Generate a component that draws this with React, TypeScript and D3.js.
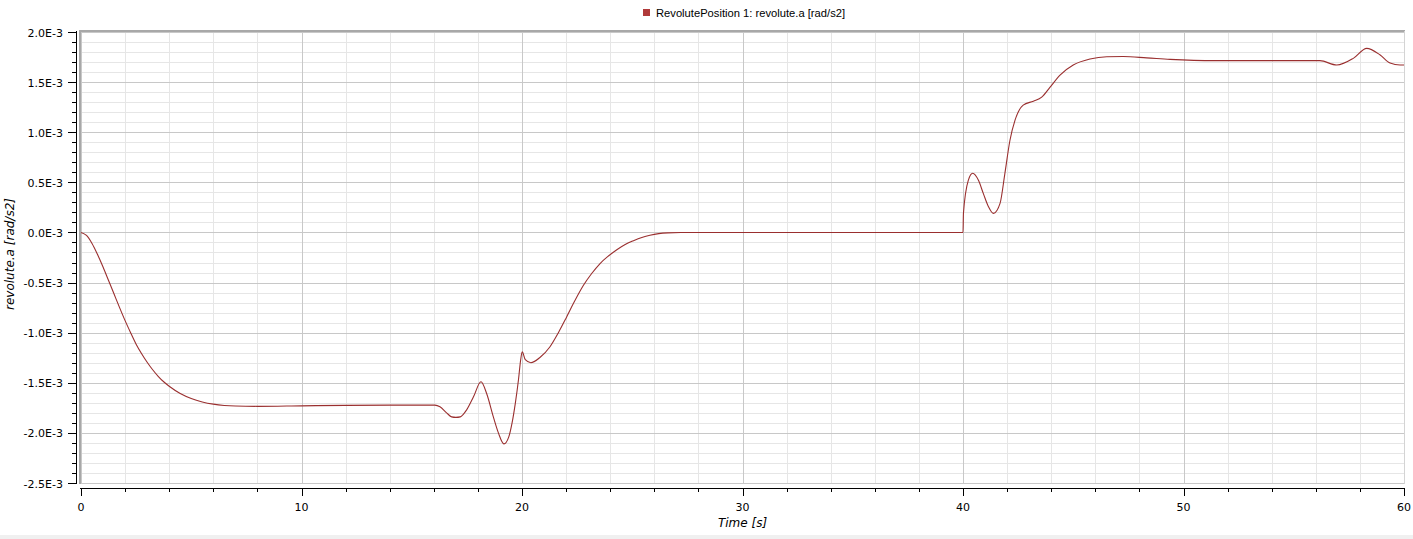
import React from "react";
import * as d3 from "d3";

const legendLabel = "RevolutePosition 1: revolute.a [rad/s2]";
const xTitle = "Time [s]";
const yTitle = "revolute.a [rad/s2]";

const xTicks = [0, 10, 20, 30, 40, 50, 60];
const xTickLabels = ["0", "10", "20", "30", "40", "50", "60"];
const yTicks = [-2.5, -2.0, -1.5, -1.0, -0.5, 0.0, 0.5, 1.0, 1.5, 2.0];
const yTickLabels = ["-2.5E-3", "-2.0E-3", "-1.5E-3", "-1.0E-3", "-0.5E-3", "0.0E-3", "0.5E-3", "1.0E-3", "1.5E-3", "2.0E-3"];

// time [s]
const times = [
  0, 0.25, 0.5, 0.75, 1.0, 1.25, 1.5, 1.75, 2.0, 2.25, 2.5, 2.75, 3.0, 3.25, 3.5, 3.75, 4.0, 4.5, 5.0, 5.5, 6.0, 6.5, 7.0, 8, 10, 12, 14, 16.05,
  16.28, 16.58, 16.81, 17.0, 17.2, 17.49, 17.8, 18.14, 18.4, 18.7, 18.93, 19.18, 19.4, 19.55, 19.7, 19.84, 19.94, 20.01,
  20.15, 20.4, 20.8, 21.27, 21.65, 22.03, 22.4, 22.78, 23.16, 23.54, 23.92, 24.3, 24.68, 25.05, 25.4, 25.8, 26.2, 26.6, 27.2, 40,
  40.02, 40.24, 40.44, 40.7, 40.92, 41.15, 41.38, 41.68, 41.9, 42.13, 42.36, 42.73, 43.19, 43.57, 43.95, 44.4,
  45.0, 45.76, 46.52, 47.27, 48.33, 49.39, 51.43, 56.19, 56.95, 57.7, 58.31, 58.92, 59.37, 59.82, 60,
];
// revolute.a [1E-3 rad/s2]
const accel = [
  0, -0.03, -0.11, -0.22, -0.345, -0.48, -0.615, -0.75, -0.88, -1.0, -1.115, -1.21, -1.295, -1.37, -1.435, -1.49, -1.535, -1.607, -1.657, -1.691, -1.713, -1.726, -1.732, -1.735, -1.73, -1.725, -1.723, -1.723,
  -1.74, -1.8, -1.84, -1.845, -1.84, -1.77, -1.64, -1.49, -1.61, -1.84, -2.0, -2.11, -2.04, -1.9, -1.7, -1.47, -1.27, -1.19,
  -1.27, -1.3, -1.25, -1.14, -1.0, -0.84, -0.68, -0.53, -0.41, -0.31, -0.235, -0.172, -0.12, -0.083, -0.052, -0.028, -0.012, -0.004, 0, 0,
  0.19, 0.52, 0.59, 0.52, 0.39, 0.26, 0.19, 0.29, 0.59, 0.92, 1.12, 1.27, 1.31, 1.35, 1.45, 1.57,
  1.67, 1.73, 1.753, 1.755, 1.742, 1.727, 1.714, 1.714, 1.67, 1.737, 1.837, 1.77, 1.69, 1.67, 1.67,
];

const lineColor = "#9a2f2f";
const W = 1413;
const H = 539;

export default function App() {
  const x = d3.scaleLinear().domain([0, 60]).range([81, 1404]);
  const y = d3.scaleLinear().domain([-2.5, 2.0]).range([483, 32]);
  const data: [number, number][] = times.map((t, i) => [t, accel[i]]);
  const line = d3
    .line<[number, number]>()
    .x((d) => x(d[0]))
    .y((d) => y(d[1]))
    .curve(d3.curveMonotoneX);

  const xMinor = d3.range(0, 60.001, 2);
  const yMinor = d3.range(-25, 20.001, 1).map((v) => v / 10);
  const isMajorX = (v: number) => Math.abs(v % 10) < 1e-6;
  const isMajorY = (v: number) => Math.abs(Math.round(v * 10) % 5) === 0;

  const x0 = x(0), x1 = x(60), y0 = y(-2.5), y1 = y(2.0);
  const tickFont = "'DejaVu Sans', Verdana, sans-serif";

  return (
    <svg
      width={W}
      height={H}
      style={{ position: "absolute", left: 0, top: 0, background: "#fff" }}
      shapeRendering="crispEdges"
    >
      <rect x={0} y={0} width={W} height={H} fill="#fff" />
      {/* grid */}
      {yMinor.filter((v) => !isMajorY(v)).map((v) => (
        <line key={"gy" + v} x1={x0} x2={x1} y1={Math.round(y(v)) + 0.5} y2={Math.round(y(v)) + 0.5} stroke="#e6e6e6" />
      ))}
      {xMinor.filter((v) => !isMajorX(v)).map((v) => (
        <line key={"gx" + v} x1={Math.round(x(v)) + 0.5} x2={Math.round(x(v)) + 0.5} y1={y1} y2={y0} stroke="#e6e6e6" />
      ))}
      {yTicks.map((v) => (
        <line key={"GY" + v} x1={x0} x2={x1} y1={Math.round(y(v)) + 0.5} y2={Math.round(y(v)) + 0.5} stroke="#c8c8c8" />
      ))}
      {xTicks.map((v) => (
        <line key={"GX" + v} x1={Math.round(x(v)) + 0.5} x2={Math.round(x(v)) + 0.5} y1={y1} y2={y0} stroke="#c8c8c8" />
      ))}
      {/* frame */}
      <line x1={x0 - 1} x2={x1 + 1} y1={31} y2={31} stroke="#a8a8a8" strokeWidth={2} />
      <line x1={80} x2={80} y1={30} y2={y0 + 1} stroke="#a8a8a8" strokeWidth={2} />
      <line x1={1404.5} x2={1404.5} y1={31} y2={y0 + 1} stroke="#d4d4d4" />

      {/* curve */}
      <path d={line(data) || ""} fill="none" stroke={lineColor} strokeWidth={1.1} shapeRendering="geometricPrecision" />

      {/* y axis */}
      <line x1={76.5} x2={76.5} y1={31} y2={484} stroke="#000" />
      {yMinor.map((v) => (
        <line key={"ty" + v} x1={isMajorY(v) ? 68 : 72} x2={77} y1={Math.round(y(v)) + 0.5} y2={Math.round(y(v)) + 0.5} stroke="#000" />
      ))}
      {yTicks.map((v, i) => (
        <text key={"ly" + v} x={63} y={y(v) + 4.5} textAnchor="end" fontFamily={tickFont} fontSize={11} fill="#000">
          {yTickLabels[i]}
        </text>
      ))}
      <text
        transform={`translate(14,254) rotate(-90)`}
        textAnchor="middle"
        fontFamily={tickFont}
        fontStyle="italic"
        fontSize={12}
        fill="#000"
      >
        {yTitle}
      </text>

      {/* x axis */}
      <line x1={80} x2={1405} y1={488.5} y2={488.5} stroke="#000" />
      {xMinor.map((v) => (
        <line key={"tx" + v} x1={Math.round(x(v)) + 0.5} x2={Math.round(x(v)) + 0.5} y1={488} y2={isMajorX(v) ? 496 : 492} stroke="#000" />
      ))}
      {xTicks.map((v, i) => (
        <text key={"lx" + v} x={x(v)} y={511} textAnchor="middle" fontFamily={tickFont} fontSize={11} fill="#000">
          {xTickLabels[i]}
        </text>
      ))}
      <text x={742.5} y={527} textAnchor="middle" fontFamily={tickFont} fontStyle="italic" fontSize={12} fill="#000">
        {xTitle}
      </text>

      {/* legend */}
      <rect x={643} y={9} width={7} height={7} fill="#b03a3a" />
      <text x={656} y={16.5} fontFamily="'Liberation Sans', Arial, sans-serif" fontSize={11.2} fill="#000">
        {legendLabel}
      </text>

      <rect x={0} y={535} width={W} height={4} fill="#f0f0f0" />
    </svg>
  );
}
